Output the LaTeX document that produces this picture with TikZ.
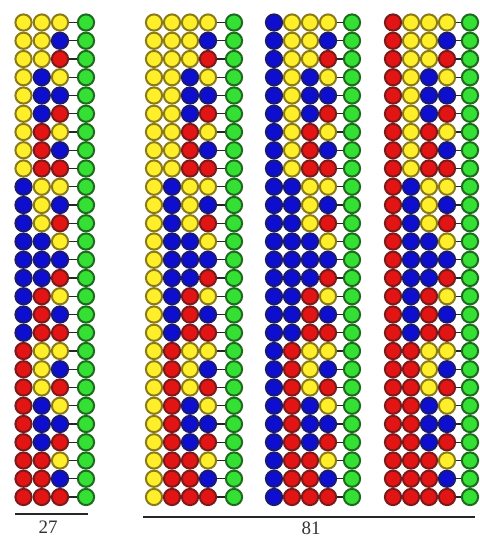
\documentclass[tikz,border=0pt]{standalone}
\usepackage{fontspec}
\setmainfont{Liberation Serif}
\definecolor{yfill}{HTML}{FFEE2A}
\definecolor{ydraw}{HTML}{8A7A18}
\definecolor{bfill}{HTML}{0E0ED0}
\definecolor{bdraw}{HTML}{1A1A70}
\definecolor{rfill}{HTML}{E21414}
\definecolor{rdraw}{HTML}{7A1A1A}
\definecolor{gfill}{HTML}{33E033}
\definecolor{gdraw}{HTML}{1F6A1F}
\definecolor{txt}{HTML}{333333}
\tikzset{
  bead/.style={circle, minimum size=16.2pt, inner sep=0pt, line width=2pt},
  Y/.style={bead, fill=yfill, draw=ydraw},
  B/.style={bead, fill=bfill, draw=bdraw},
  R/.style={bead, fill=rfill, draw=rdraw},
  G/.style={bead, fill=gfill, draw=gdraw},
  link/.style={line width=1.4pt, black!85},
  rule/.style={line width=1.3pt, black!85},
  count/.style={font=\fontsize{19}{19}\selectfont, text=txt, inner sep=0pt}
}
\begin{document}
\begin{tikzpicture}[x=1pt,y=-1pt]
\useasboundingbox (0,0) rectangle (480,539);
% first column: all 27 sequences of length 3
\foreach \n in {0,...,26} {
  \pgfmathtruncatemacro\da{div(\n,9)}
  \pgfmathtruncatemacro\db{mod(div(\n,3),3)}
  \pgfmathtruncatemacro\dc{mod(\n,3)}
  \pgfmathsetmacro\yy{22.5+\n*18.25}
  \edef\ca{\ifcase\da Y\or B\or R\fi}
  \edef\cb{\ifcase\db Y\or B\or R\fi}
  \edef\cc{\ifcase\dc Y\or B\or R\fi}
  \node[\ca] (a-\n-1) at (23.5,\yy) {};
  \node[\cb] (a-\n-2) at (41.8,\yy) {};
  \node[\cc] (a-\n-3) at (60,\yy) {};
  \node[G] (a-\n-g) at (86,\yy) {};
  \draw[link] (a-\n-3) -- (a-\n-g);
}
% columns 2-4: 81 sequences of length 4
\foreach \k/\x/\gx in {0/154/234, 1/274/352, 2/393/470} {
  \foreach \n in {0,...,26} {
    \pgfmathtruncatemacro\da{div(\n,9)}
    \pgfmathtruncatemacro\db{mod(div(\n,3),3)}
    \pgfmathtruncatemacro\dc{mod(\n,3)}
    \pgfmathsetmacro\yy{22.5+\n*18.25}
    \edef\cz{\ifcase\k Y\or B\or R\fi}
    \edef\ca{\ifcase\da Y\or B\or R\fi}
    \edef\cb{\ifcase\db Y\or B\or R\fi}
    \edef\cc{\ifcase\dc Y\or B\or R\fi}
    \node[\cz] (b\k-\n-0) at (\x,\yy) {};
    \node[\ca] (b\k-\n-1) at (\x+18,\yy) {};
    \node[\cb] (b\k-\n-2) at (\x+36,\yy) {};
    \node[\cc] (b\k-\n-3) at (\x+54,\yy) {};
    \node[G] (b\k-\n-g) at (\gx,\yy) {};
    \draw[link] (b\k-\n-3) -- (b\k-\n-g);
  }
}
% totals
\coordinate (l1) at (15,514);
\coordinate (r1) at (88,514);
\draw[rule] (l1) -- (r1);
\node[count] (n27) at (48,527) {27};
\coordinate (l2) at (143,517);
\coordinate (r2) at (475,517);
\draw[rule] (l2) -- (r2);
\node[count] (n81) at (311,528.5) {81};
\end{tikzpicture}
\end{document}
